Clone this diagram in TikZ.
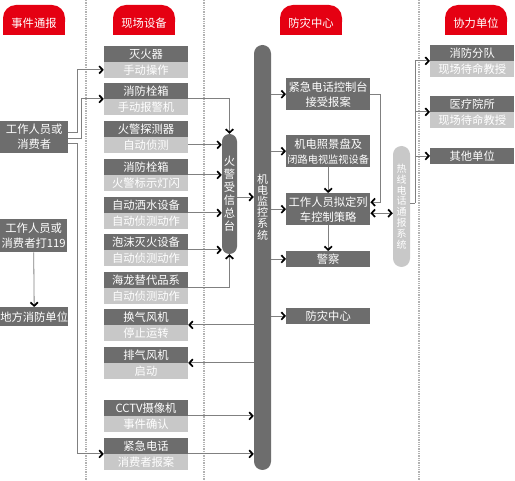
\documentclass[tikz,border=0pt]{standalone}
\usepackage{fontspec}
\setmainfont{Noto Sans CJK SC}
\usetikzlibrary{arrows.meta}
\definecolor{hdred}{HTML}{E50012}
\definecolor{boxdark}{HTML}{6D6D6D}
\definecolor{boxlight}{HTML}{C8C8C8}
\definecolor{linegray}{HTML}{808080}

\begin{document}
\begin{tikzpicture}[x=1pt,y=-1pt,
	font=\fontsize{11.3}{15}\selectfont,
	>={Straight Barb[black,length=3.5pt,width=7.5pt,line width=1.7pt]},
	dk/.style={fill=boxdark,text=white,inner sep=0,minimum width=84pt,minimum height=15.5pt},
	lt/.style={dk,fill=boxlight},
	dk2/.style={dk,minimum height=32pt,align=center},
	pill/.style={fill=boxdark,text=white,inner sep=0,rounded corners=7.5pt,align=center},
	arr/.style={linegray,line width=0.8pt,->},
	darr/.style={linegray,line width=0.8pt,<->},
	sep/.style={gray!60,densely dotted,line width=1.3pt}]
		\useasboundingbox (0,0) rectangle (515,481);
		% column borders
		\foreach \x in {86,204,419} {
			\draw[sep] (\x,0) -- (\x,481);
		}
		% headers
		\foreach \x/\t [count=\k] in {34/事件通报,144/现场设备,311/防灾中心,476/协力单位} {
			\fill[hdred,rounded corners=13pt] (\x-31,5) rectangle (\x+31,35);
			\fill[hdred] (\x-31,20) rectangle (\x+31,35);
			\node[text=white] (h\k) at (\x,23) {\t};
		}
		% devices
		\foreach \i/\y/\a/\b in {1/46/灭火器/手动操作,2/83/消防栓箱/手动报警机,3/121/火警探测器/自动侦测,4/159/消防栓箱/火警标示灯闪,5/197/自动洒水设备/自动侦测动作,6/234/泡沫灭火设备/自动侦测动作,7/272/海龙替代品系/自动侦测动作,8/309/换气风机/停止运转,9/347/排气风机/启动,10/400/CCTV摄像机/事件确认,11/438/紧急电话/消费者报案} {
			\node[dk,anchor=north] (d\i) at (146,\y) {\a};
			\node[lt,anchor=north] (l\i) at (d\i.south) {\b};
		}
		% reporting
		\node[dk2,minimum width=68pt,anchor=north west] (w1) at (0,121) {工作人员或\\消费者};
		\node[dk2,minimum width=67pt,minimum height=33pt,anchor=north west] (w2) at (0,219) {工作人员或\\消费者打119};
		\node[dk,minimum width=68pt,minimum height=19pt,anchor=north west] (w3) at (0,307) {地方消防单位};
		% control centre
		\node[pill,minimum width=15pt,minimum height=120pt,font=\fontsize{11.3}{13}\selectfont] (alarm) at (229.5,194) {火\\警\\受\\信\\总\\台};
		\node[pill,minimum width=17pt,minimum height=425pt,rounded corners=8.5pt] (bar) at (262.5,257.5) {};
		\node[text=white,inner sep=0,align=center,font=\fontsize{11}{11.2}\selectfont] (barlab) at (262.5,207) {机\\电\\监\\控\\系\\统};
		\node[dk2,anchor=north west] (c1) at (286,78) {紧急电话控制台\\接受报案};
		\node[dk2,anchor=north west] (c2) at (286,135) {机电照景盘及\\{\fontsize{10.2}{15}\selectfont 闭路电视监视设备}};
		\node[dk2,anchor=north west] (c3) at (286,193) {工作人员拟定列\\车控制策略};
		\node[dk,anchor=north west] (c4) at (286,251) {警察};
		\node[dk,anchor=north west] (c5) at (286,308) {防灾中心};
		\node[pill,fill=boxlight,minimum width=17pt,minimum height=121pt,rounded corners=8.5pt,font=\fontsize{10}{10.8}\selectfont] (hot) at (401.5,206.5) {热\\线\\电\\话\\通\\报\\系\\统};
		% partners
		\node[dk,anchor=north west] (r1) at (430,45) {消防分队};
		\node[lt,anchor=north] (r1l) at (r1.south) {现场待命教授};
		\node[dk,anchor=north west] (r2) at (430,96) {医疗院所};
		\node[lt,anchor=north] (r2l) at (r2.south) {现场待命教授};
		\node[dk,anchor=north west] (r3) at (430,148) {其他单位};
		% connectors
		\draw[arr] ([yshift=5pt]w1.east) -- ++(9,0) |- (l1.west);
		\draw[arr] ([yshift=-1pt]w1.east) -- ++(13,0) |- (d2.south west);
		\draw[arr] ([yshift=-6pt]w1.east) -- ++(9,0) |- (d11.south west);
		\draw[arr] (w2.south) -- (w3.north);
		\draw[arr] (d2.south east) -| (alarm.north);
		\draw[arr] (l3.east) -- (l3.east -| alarm.west);
		\foreach \i in {4,5,6} {
			\draw[arr] (d\i.south east) -- (d\i.south east -| alarm.west);
		}
		\draw[arr] (d7.south east) -| (alarm.south);
		\draw[arr] ([yshift=-3pt]alarm.east) -- ([yshift=-3pt]alarm.east -| bar.west);
		\foreach \n in {c1,c2,c3,c4,c5} {
			\draw[arr] (\n.west -| bar.east) -- (\n.west);
		}
		\foreach \i in {8,9} {
			\draw[arr] (d\i.south east -| bar.west) -- (d\i.south east);
		}
		\foreach \i in {10,11} {
			\draw[arr] (d\i.south east) -- (d\i.south east -| bar.west);
		}
		\draw[arr] (c2.south) -- (c3.north);
		\draw[arr] (c3.south) -- (c4.north);
		\draw[arr] (c1.east) -- ++(10,0) |- ([yshift=7pt]c3.east);
		\draw[darr] ([yshift=-4pt]c3.east) -- ([yshift=-4pt]c3.east -| hot.west);
		\coordinate (hub) at (415,203);
		\draw[linegray,line width=0.8pt] ([yshift=3.5pt]hot.east) -- (hub);
		\draw[arr] (hub) |- (r1.south west);
		\draw[arr] (hub) |- (r2.south west);
		\draw[arr] (hub) |- (r3.west);
	\end{tikzpicture}
\end{document}
